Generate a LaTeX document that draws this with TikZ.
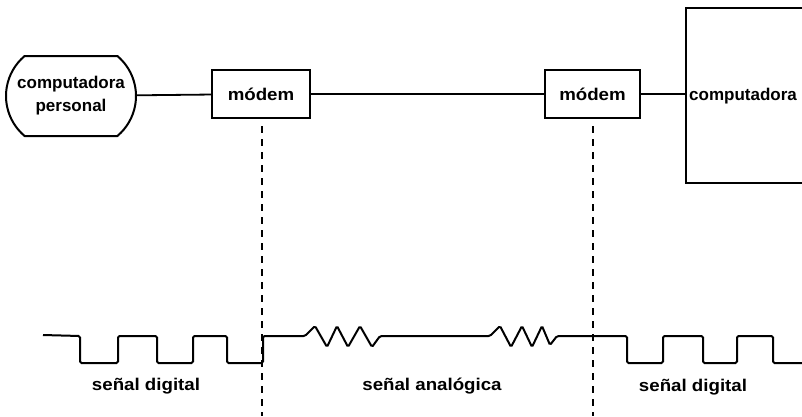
\documentclass[tikz,border=0pt]{standalone}
\usepackage{fontspec}
\setmainfont{Liberation Sans}
\newfontfamily\widefont{Liberation Sans}[FakeStretch=1.1]
\usetikzlibrary{shapes.misc}
\begin{document}
\begin{tikzpicture}[x=1pt,y=-1pt,
  box/.style={draw, line width=2pt, inner sep=0pt},
  lab/.style={font=\fontsize{17}{23}\selectfont\bfseries},
  sig/.style={font=\widefont\fontsize{17}{23}\selectfont\bfseries},
  conn/.style={line width=1.8pt},
  guide/.style={line width=1.2pt, dash pattern=on 7pt off 6pt},
  wave/.style={line width=2pt, rounded corners=1.5pt}]
\useasboundingbox (0,0) rectangle (802,416);
\node[box, rounded rectangle, rounded rectangle arc length=100, minimum width=130pt, minimum height=80pt, align=center, lab] (pc) at (71,96) {computadora\\personal};
\node[box, minimum width=98pt, minimum height=48pt, sig] (m1) at (261,94) {módem};
\node[box, minimum width=95pt, minimum height=48pt, sig] (m2) at (592.5,94) {módem};
\node[box, minimum width=120pt, minimum height=175pt] (big) at (746,95.5) {};
\node[lab, anchor=west, inner sep=0pt] (bigt) at (689,96) {computadora};
\draw[conn] (pc) -- (m1);
\draw[conn] (m1) -- (m2);
\draw[conn] (m2.east) -- (m2.east -| big.west);
\coordinate (d1) at (262,416);
\coordinate (d2) at (593,416);
\draw[guide] ([yshift=-7pt,xshift=1pt]m1.south) -- (d1);
\draw[guide] ([yshift=-7pt,xshift=0.5pt]m2.south) -- (d2);
\draw[wave] (43,335) -- (80,336) -- (80,363) -- (118,363) -- (118,336) -- (157,336) -- (157,363) -- (193,363) -- (193,336) -- (227,336) -- (227,363) -- (263,363) -- (263,336) -- (305,336)
  -- (315,326) -- (327,347) -- (337,326) -- (348,347) -- (360,326) -- (372,347) -- (380,336) -- (490,336)
  -- (500,326) -- (511,347) -- (522,326) -- (532,347) -- (542,326) -- (550,345) -- (557,336)
  -- (627,336) -- (627,363) -- (663,363) -- (663,336) -- (703,336) -- (703,363) -- (737,363) -- (737,336) -- (773,336) -- (773,363) -- (805,363);
\node[sig] (s1) at (146,386) {señal digital};
\node[sig] (s2) at (432,386) {señal analógica};
\node[sig] (s3) at (693,387) {señal digital};
\end{tikzpicture}
\end{document}
